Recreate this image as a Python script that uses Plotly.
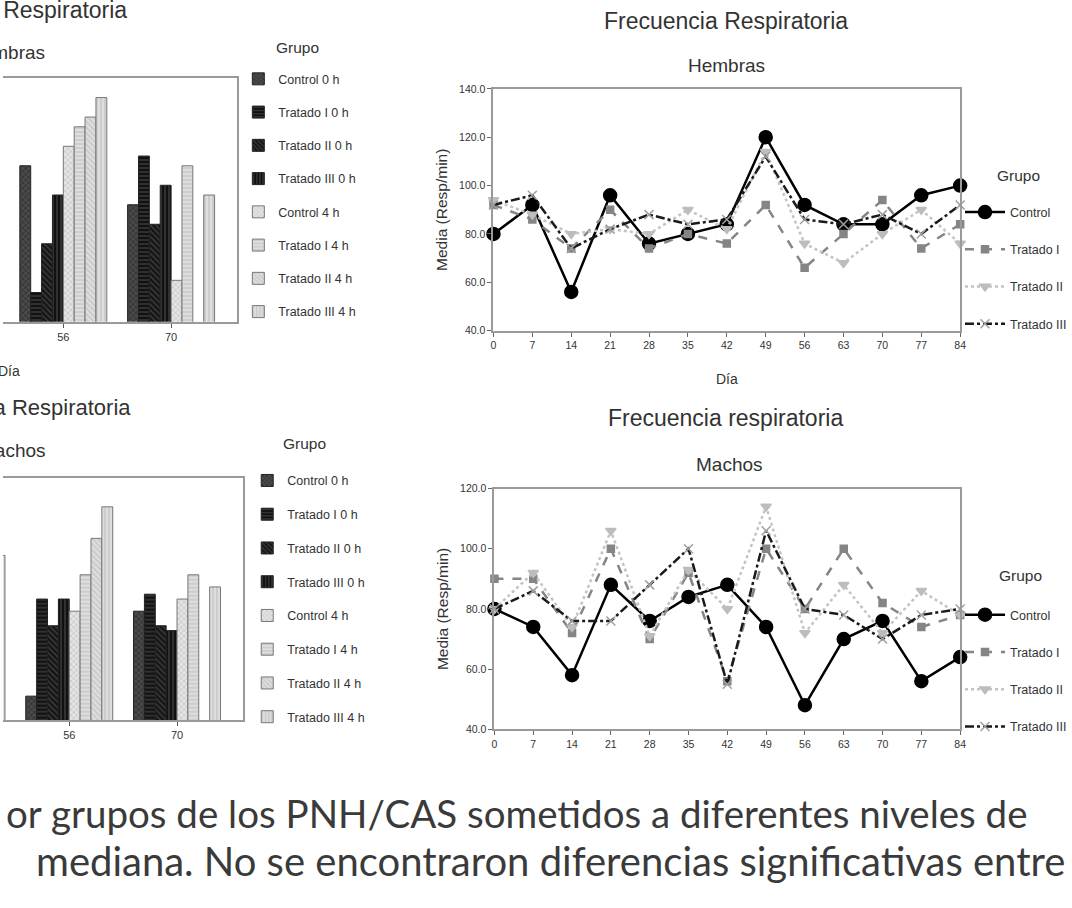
import plotly.graph_objects as go

W, H = 1072, 908

# ---------------- data ----------------
dias_barras = ["42", "56", "70"]
grupos_barras = ["Control 0 h", "Tratado I 0 h", "Tratado II 0 h", "Tratado III 0 h",
                 "Control 4 h", "Tratado I 4 h", "Tratado II 4 h", "Tratado III 4 h"]

# Hembras (bar chart), values per day 42, 56, 70
hem_control_0h = [None, 104, 88]
hem_tratado1_0h = [None, 52, 108]
hem_tratado2_0h = [None, 72, 80]
hem_tratado3_0h = [None, 92, 96]
hem_control_4h = [None, 112, 57]
hem_tratado1_4h = [None, 120, 104]
hem_tratado2_4h = [None, 124, None]
hem_tratado3_4h = [None, 132, 92]

# Machos (bar chart)
mac_control_0h = [None, 50, 85]
mac_tratado1_0h = [None, 90, 92]
mac_tratado2_0h = [None, 79, 79]
mac_tratado3_0h = [None, 90, 77]
mac_control_4h = [None, 85, 90]
mac_tratado1_4h = [None, 100, 100]
mac_tratado2_4h = [None, 115, None]
mac_tratado3_4h = [108, 128, 95]

dias = [0, 7, 14, 21, 28, 35, 42, 49, 56, 63, 70, 77, 84]
grupos_lineas = ["Control", "Tratado I", "Tratado II", "Tratado III"]

hem_control = [80, 92, 56, 96, 76, 80, 84, 120, 92, 84, 84, 96, 100]
hem_tratado1 = [92, 86, 74, 90, 74, 80, 76, 92, 66, 80, 94, 74, 84]
hem_tratado2 = [94, 88, 80, 82, 80, 90, 82, 114, 76, 68, 80, 90, 76]
hem_tratado3 = [92, 96, 74, 82, 88, 84, 86, 112, 86, 84, 88, 80, 92]

mac_control = [80, 74, 58, 88, 76, 84, 88, 74, 48, 70, 76, 56, 64]
mac_tratado1 = [90, 90, 72, 100, 70, 92, 56, 100, 80, 100, 82, 74, 78]
mac_tratado2 = [80, 92, 74, 106, 71, 93, 80, 114, 72, 88, 72, 86, 78]
mac_tratado3 = [80, 86, 76, 76, 88, 100, 55, 106, 80, 78, 70, 78, 80]

texto_linea1 = "or grupos de los PNH/CAS sometidos a diferentes niveles de"
texto_linea2 = "mediana. No se encontraron diferencias significativas entre"

# ---------------- helpers ----------------
def px(x):
    return x / W

def py(y):
    return 1 - y / H

FONT = "Liberation Sans, Arial, sans-serif"
TXT = "#333333"

bar_styles = [
    dict(shape="x", bg="#4a4a4a", fg="#111111", line="#222222"),
    dict(shape="-", bg="#111111", fg="#6a6a6a", line="#222222"),
    dict(shape="\\", bg="#151515", fg="#6a6a6a", line="#222222"),
    dict(shape="|", bg="#111111", fg="#6a6a6a", line="#222222"),
    dict(shape="x", bg="#e4e4e4", fg="#a8a8a8", line="#777777"),
    dict(shape="-", bg="#dedede", fg="#ababab", line="#777777"),
    dict(shape="\\", bg="#dedede", fg="#ababab", line="#777777"),
    dict(shape="|", bg="#dedede", fg="#ababab", line="#777777"),
]

fig = go.Figure()

hem_bars = [hem_control_0h, hem_tratado1_0h, hem_tratado2_0h, hem_tratado3_0h,
            hem_control_4h, hem_tratado1_4h, hem_tratado2_4h, hem_tratado3_4h]
mac_bars = [mac_control_0h, mac_tratado1_0h, mac_tratado2_0h, mac_tratado3_0h,
            mac_control_4h, mac_tratado1_4h, mac_tratado2_4h, mac_tratado3_4h]

for vals, xa, ya, lg, tag in [(hem_bars, "x", "y", "legend", "h"),
                              (mac_bars, "x2", "y2", "legend2", "m")]:
    for name, v, st in zip(grupos_barras, vals, bar_styles):
        fig.add_trace(go.Bar(
            x=dias_barras, y=v, name=name, xaxis=xa, yaxis=ya, legend=lg,
            legendgroup=tag + name,
            marker=dict(color=st["bg"],
                        line=dict(color=st["line"], width=1),
                        pattern=dict(shape=st["shape"], bgcolor=st["bg"],
                                     fgcolor=st["fg"], size=4, solidity=0.35)),
        ))

line_styles = [
    dict(color="#000000", dash="solid", symbol="circle", msize=13, mcolor="#000000"),
    dict(color="#858585", dash="dash", symbol="square", msize=7, mcolor="#858585"),
    dict(color="#c4c4c4", dash="dot", symbol="triangle-down", msize=9, mcolor="#bdbdbd"),
    dict(color="#1a1a1a", dash="dashdot", symbol="x-thin", msize=9, mcolor="#a0a0a0"),
]

for vals, xa, ya, lg, tag in [([hem_control, hem_tratado1, hem_tratado2, hem_tratado3], "x3", "y3", "legend3", "H"),
                              ([mac_control, mac_tratado1, mac_tratado2, mac_tratado3], "x4", "y4", "legend4", "M")]:
    for name, v, st in zip(grupos_lineas, vals, line_styles):
        fig.add_trace(go.Scatter(
            x=dias, y=v, name=name, xaxis=xa, yaxis=ya, legend=lg,
            legendgroup=tag + name, mode="lines+markers", cliponaxis=False,
            line=dict(color=st["color"], dash=st["dash"], width=2.5),
            marker=dict(symbol=st["symbol"], size=st["msize"], color=st["mcolor"],
                        line=dict(color=st["mcolor"], width=1.5)),
        ))

AX = "#9a9a9a"

bar_x_common = dict(type="category", categoryorder="array", categoryarray=dias_barras,
                    showline=True, mirror=True, linecolor=AX, linewidth=1.5,
                    ticks="outside", ticklen=4, tickcolor="#555", tickvals=["56", "70"],
                    tickfont=dict(size=11, color=TXT, family=FONT), showgrid=False, zeroline=False)
bar_y_common = dict(range=[40, 140], side="right", showline=True, linecolor=AX, linewidth=1.5,
                    showticklabels=False, ticks="", showgrid=False, zeroline=False)

line_x_common = dict(range=[0, 84], tickvals=dias, showline=True, mirror=True, linecolor=AX,
                     linewidth=2, ticks="outside", ticklen=4, tickcolor="#666",
                     tickfont=dict(size=10.5, color=TXT, family=FONT), showgrid=False, zeroline=False)
line_y_common = dict(showline=True, mirror=True, linecolor=AX, linewidth=2, ticks="outside",
                     ticklen=4, tickcolor="#666", tickformat=".1f",
                     tickfont=dict(size=10.5, color=TXT, family=FONT), showgrid=False, zeroline=False,
                     title=dict(text="Media (Resp/min)", font=dict(size=15.5, color=TXT, family=FONT),
                                standoff=8))

legend_bar = dict(font=dict(size=12.5, color=TXT, family=FONT), bgcolor="rgba(0,0,0,0)",
                  yanchor="top", xanchor="left", itemclick=False)
legend_line = dict(font=dict(size=12.5, color=TXT, family=FONT), bgcolor="rgba(0,0,0,0)",
                   yanchor="top", xanchor="left", itemwidth=40, itemclick=False)

fig.update_layout(
    width=W, height=H, margin=dict(l=0, r=0, t=0, b=0),
    paper_bgcolor="white", plot_bgcolor="white",
    barmode="group", bargap=0.193, bargroupgap=0,
    font=dict(family=FONT, color=TXT),
    xaxis=dict(domain=[0, px(237)], range=[1 - 61 / 109, 1 + 176 / 109], anchor="y", **bar_x_common),
    yaxis=dict(domain=[py(320), py(73)], anchor="x", **bar_y_common),
    xaxis2=dict(domain=[0, px(243)], range=[1 - 67 / 109, 1 + 176 / 109], anchor="y2", **bar_x_common),
    yaxis2=dict(domain=[py(724), py(478)], anchor="x2", **bar_y_common),
    xaxis3=dict(domain=[px(496), px(968)], anchor="y3",
                title=dict(text="Día", font=dict(size=14, color=TXT, family=FONT), standoff=24),
                **line_x_common),
    yaxis3=dict(domain=[py(329), py(84)], anchor="x3", range=[40, 140], dtick=20, **line_y_common),
    xaxis4=dict(domain=[px(497), px(968)], anchor="y4", **line_x_common),
    yaxis4=dict(domain=[py(733), py(489)], anchor="x4", range=[40, 120], dtick=20, **line_y_common),
    legend=dict(x=px(238), y=py(59), tracegroupgap=14, **legend_bar),
    legend2=dict(x=px(247), y=py(466), tracegroupgap=14.5, **legend_bar),
    legend3=dict(x=px(968), y=py(194), tracegroupgap=18, **legend_line),
    legend4=dict(x=px(968), y=py(602), tracegroupgap=18, **legend_line),
    showlegend=True,
)

ann = []
def add_text(text, x, y, size, xanchor="center", color=TXT, family=FONT):
    ann.append(dict(text=text, x=px(x), y=py(y), xref="paper", yref="paper", showarrow=False,
                    xanchor=xanchor, yanchor="middle", font=dict(size=size, color=color, family=family)))

# left (cropped) bar charts
add_text("Frecuencia Respiratoria", 127, 4, 23, xanchor="right")
add_text("Hembras", 45, 47, 19, xanchor="right")
add_text("Día", 19, 370, 14, xanchor="right")
add_text("Frecuencia Respiratoria", 131, 407, 22, xanchor="right")
add_text("Machos", 46, 450, 19, xanchor="right")
add_text("Grupo", 298, 42, 15.5)
add_text("Grupo", 305, 443, 15.5)

# right line charts
add_text("Frecuencia Respiratoria", 731, 15, 23)
add_text("Hembras", 732, 60, 19)
add_text("Grupo", 1027, 172, 15.5)
add_text("Frecuencia respiratoria", 731, 418, 23)
add_text("Machos", 735, 465, 19)
add_text("Grupo", 1029, 577, 15.5)

# slide text
add_text(texto_linea1, 1, 818, 38.5, xanchor="left", color="#3a3a3a", family="Lato, sans-serif")
add_text(texto_linea2, 31, 866, 40, xanchor="left", color="#3a3a3a", family="Lato, sans-serif")

fig.update_layout(annotations=ann)

fig.write_html("out.html")
